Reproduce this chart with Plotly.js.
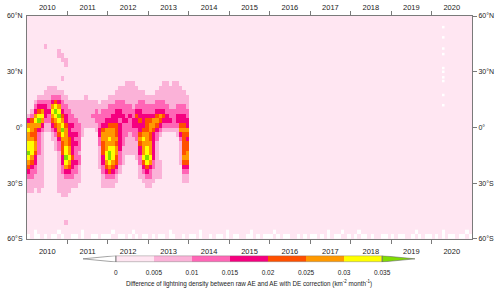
<!DOCTYPE html>
<html><head><meta charset="utf-8">
<script src="https://cdn.plot.ly/plotly-3.0.1.min.js"></script>
<style>html,body{margin:0;padding:0;background:#fff}#chart{width:500px;height:292px}</style>
</head><body><div id="chart"></div>
<script>
// ---------------- DATA ----------------
const startYear = 2010;
const yearLabels = ['2010','2011','2012','2013','2014','2015','2016','2017','2018','2019','2020'];
const latTickVals = [-60, -30, 0, 30, 60];
const latTickText = ['60°S', '30°S', '0°', '30°N', '60°N'];
// latitude of each grid row (2.5° bands), north to south
const latCenters = [58.75,56.25,53.75,51.25,48.75,46.25,43.75,41.25,38.75,36.25,33.75,31.25,28.75,26.25,
  23.75,21.25,18.75,16.25,13.75,11.25,8.75,6.25,3.75,1.25,-1.25,-3.75,-6.25,-8.75,-11.25,-13.75,-16.25,
  -18.75,-21.25,-23.75,-26.25,-28.75,-31.25,-33.75,-36.25,-38.75,-41.25,-43.75,-46.25,-48.75,-51.25,
  -53.75,-56.25,-58.75];
// colour class boundaries and labels
const levelBounds = [0, 0.005, 0.01, 0.015, 0.02, 0.025, 0.03, 0.035];
const levelBoundLabels = ['0', '0.005', '0.01', '0.015', '0.02', '0.025', '0.03', '0.035'];
// representative value of each colour class (class 0 = below 0, class 8 = above 0.035)
const levelMid = [-0.0025, 0.0025, 0.0075, 0.0125, 0.0175, 0.0225, 0.0275, 0.0325, 0.0375];
const levelColors = ['#FFFFFF','#FFE6F2','#FBB2D8','#FF66B6','#F5007F','#FF5000','#FF9900','#FFFF00','#80DD00'];
// one string per month (Jan 2010 .. Dec 2013); each character = colour class of a latitude row (N -> S)
const monthColumns = [
  "11111111111111|11111112467667787654322211|11111111",
  "11111111111111|11111123566567776543322211|11111111",
  "11111111111111|11112346765556654433222111|11111111",
  "11111111111111|11123457864333332222222211|11111111",
  "11111111111111|11123467643222222222222111|11111111",
  "11111121111111|11223444322111111111111111|11111111",
  "11111111111111|12223343322111111111111111|11111111",
  "11111111111111|12234676543221111111111111|11111111",
  "11111111111111|12235787654322211111111111|11111111",
  "11111112211111|11234678766543322222222211|11111111",
  "11111111221112|11223345678765554433222221|11111111",
  "11111111122111|11122334456666778764322221|11112111",
  "11111111111111|11112233344455667654322211|11111111",
  "11111111111111|11112223343444445443322111|11111111",
  "11111111111111|11112222333434333433222111|11111111",
  "11111111111111|11112222233333323322221111|11111111",
  "11111111111111|11112222222211111111111111|11111111",
  "11111111111111|11122222221111111111111111|11111111",
  "11111111111111|11112222221111111111111111|11111111",
  "11111111111111|11112223221111111111111111|11111111",
  "11111111111111|11112233322111111111111111|11111111",
  "11111111111111|11111223334433222221111111|11111111",
  "11111111111111|11112233345665554433222111|11111111",
  "11111111111111|11112233446666677654322111|11111111",
  "11111111111111|11122333456676788765322111|11111111",
  "11111111111111|11122334456666777654322111|11111111",
  "11111111111111|11223344455565665543221111|11111111",
  "11111111111111|12223344344444433322111111|11111111",
  "11111111111111|12223334433333222211111111|11111111",
  "11111111111111|22222333433322221111111111|11111111",
  "11111111111111|22222334333222221111111111|11111111",
  "11111111111111|22222233443322221111111111|11111111",
  "11111111111111|12222345443332222111111111|11111111",
  "11111111111111|11223344544565443322211111|11111111",
  "11111111111111|11223334445676667543221111|11111111",
  "11111111111111|11122334555666778754322111|11111111",
  "11111111111111|11122334566556667643322111|11111111",
  "11111111111111|11122334665444444332221111|11111111",
  "11111111111111|11223345654332222222211111|11111111",
  "11111111111111|12223346543211111222211111|11111111",
  "11111111111111|22223345432111111111111111|11111111",
  "11111111111111|22222334432111111111111111|11111111",
  "11111111111111|12222233432111111111111111|11111111",
  "11111111111111|22222233332111111111111111|11111111",
  "11111111111111|22222334432211111111111111|11111111",
  "11111111111111|12222334456432222211111111|11111111",
  "11111111111111|11222334456555556543221111|11111111",
  "11111111111111|11122233446545566543221111|11111111"
];
// negative (white) specks along the southern edge, Jan 2010 .. Dec 2020, one char per month ('0' = below 0)
const southEdgeRowLat = [-58.75, -56.25];
const southEdgeRows = [
  ["0.00.0.00.0.",".00.0..00.00","0..00.0.0.00",".0.00.00..0.","00.0..0.00.0",".00..00.0.00",
   "0.0.00..0.0.","00.0.0.00..0",".0.00.0..00.","0.00..0.0.00",".0.0.00.00.0"],
  ["..0......0..","....0.......",".0.....0....","......0.....","...0.......0","......0.....",
   ".0..........",".....0...0..","..0.........",".......0....","...0......0."]
];
// isolated negative specks in April 2020
const speck2020Year = 2020.29;
const speck2020Lat = [54, 48.5, 42.5, 39.5, 32, 30, 27, 25, 17.5, 12];

// ---------------- BUILD ----------------
const FONT = 'Liberation Sans, Arial, Helvetica, sans-serif';
const AXC = '#7a7a7a';
const cols = monthColumns.map(s => s.replace(/\|/g, ''));
cols.forEach((s, i) => { if (s.length !== latCenters.length) throw new Error('column ' + i + ' has length ' + s.length); });
const monthX = cols.map((_, k) => startYear + (k + 0.5) / 12);
const zMain = latCenters.map((lat, r) => cols.map(s => levelMid[+s[r]]));

const nClass = levelColors.length;
const colorscale = [];
levelColors.forEach((c, i) => { colorscale.push([i / nClass, c]); colorscale.push([(i + 1) / nClass, c]); });
const zmin = levelMid[0] - 0.0025, zmax = levelMid[nClass - 1] + 0.0025;

const edgeStr = southEdgeRows.map(r => r.join(''));
const nMonthsAll = edgeStr[0].length;
const edgeX = Array.from({length: nMonthsAll + 1}, (_, k) => startYear + k / 12);
const edgeY = [-60, -57.5, -55];
const edgeZ = southEdgeRowLat.map((lat, r) => edgeStr[r].split('').map(ch => ch === '0' ? levelMid[0] : null));

const yearMid = yearLabels.map(y => +y + 0.5);
const yearBounds = yearLabels.slice(1).map(y => +y);

const common = {type: 'heatmap', colorscale, zmin, zmax, showscale: false, hoverinfo: 'skip', zsmooth: false};
const traces = [
  Object.assign({x: monthX, y: latCenters, z: zMain, xaxis: 'x', yaxis: 'y'}, common),
  Object.assign({x: edgeX, y: edgeY, z: edgeZ, xaxis: 'x', yaxis: 'y'}, common),
  {type: 'scatter', mode: 'markers', x: speck2020Lat.map(() => speck2020Year), y: speck2020Lat,
   xaxis: 'x2', yaxis: 'y2', marker: {symbol: 'square', size: 2.5, color: '#FFFFFF'}, hoverinfo: 'skip'},
  Object.assign({x: levelBounds, y: [0, 1], z: [levelMid.slice(1, nClass - 1)], xaxis: 'x3', yaxis: 'y3'}, common)
];

const tickFontX = {family: FONT, size: 7.5, color: '#222'};
const tickFontY = {family: FONT, size: 7, color: '#222'};
const xCommon = {range: [2010, 2021], tickmode: 'array', tickvals: yearMid, ticktext: yearLabels, ticks: '',
  showline: true, linecolor: AXC, linewidth: 1, showgrid: false, zeroline: false, tickfont: tickFontX,
  minor: {tickmode: 'array', tickvals: yearBounds, ticks: 'outside', ticklen: 4, tickcolor: AXC, tickwidth: 1, showgrid: false},
  fixedrange: true};
const yCommon = {range: [-60, 60], tickmode: 'array', tickvals: latTickVals, ticktext: latTickText, ticks: 'outside',
  ticklen: 4, tickcolor: AXC, showline: true, linecolor: AXC, linewidth: 1, showgrid: false, zeroline: false,
  tickfont: tickFontY, fixedrange: true};
const tipLen = 0.00432;
const lo = levelBounds[0], hi = levelBounds[levelBounds.length - 1];

const layout = {
  width: 500, height: 292,
  margin: {l: 27, r: 28, t: 16, b: 29, pad: 0},
  paper_bgcolor: '#FFFFFF', plot_bgcolor: 'rgba(0,0,0,0)',
  font: {family: FONT, color: '#222'},
  showlegend: false,
  xaxis: Object.assign({}, xCommon, {domain: [0, 1], anchor: 'y', side: 'bottom', ticklabelstandoff: 5}),
  xaxis2: Object.assign({}, xCommon, {overlaying: 'x', anchor: 'y', side: 'top', ticklabelstandoff: 2}),
  yaxis: Object.assign({}, yCommon, {domain: [0.0972, 1], anchor: 'x', side: 'left', ticks: '', ticklabelstandoff: 2}),
  yaxis2: Object.assign({}, yCommon, {overlaying: 'y', anchor: 'x', side: 'right'}),
  xaxis3: {domain: [0.12584, 0.87191], anchor: 'y3', range: [lo - tipLen, hi + tipLen], tickmode: 'array',
    tickvals: levelBounds, ticktext: levelBoundLabels, ticks: '', showline: false, showgrid: false, zeroline: false,
    tickfont: {family: FONT, size: 6.5, color: '#222'}, ticklabelstandoff: 5, fixedrange: true,
    title: {text: 'Difference of lightning density between raw AE and AE with DE correction (km<sup>-2</sup> month<sup>-1</sup>)',
      font: {family: FONT, size: 6.3, color: '#222'}, standoff: 6}},
  yaxis3: {domain: [0.0028, 0.0308], anchor: 'x3', range: [-0.05, 1.05], visible: false, fixedrange: true},
  shapes: [
    {type: 'rect', xref: 'x', yref: 'y', x0: 2010, x1: 2021, y0: -60, y1: 60, fillcolor: levelColors[1], line: {width: 0}, layer: 'below'},
    {type: 'path', xref: 'x3', yref: 'y3', path: `M ${lo} 0 L ${lo - tipLen} 0.5 L ${lo} 1 Z`, fillcolor: levelColors[0], line: {color: '#666', width: 0.6}},
    {type: 'path', xref: 'x3', yref: 'y3', path: `M ${hi} 0 L ${hi + tipLen} 0.5 L ${hi} 1 Z`, fillcolor: levelColors[nClass - 1], line: {color: '#666', width: 0.6}},
    {type: 'rect', xref: 'x3', yref: 'y3', x0: lo, x1: hi, y0: 0, y1: 1, fillcolor: 'rgba(0,0,0,0)', line: {color: '#666', width: 0.6}}
  ]
};
Plotly.newPlot('chart', traces, layout, {staticPlot: true, displayModeBar: false});
</script>
</body></html>
